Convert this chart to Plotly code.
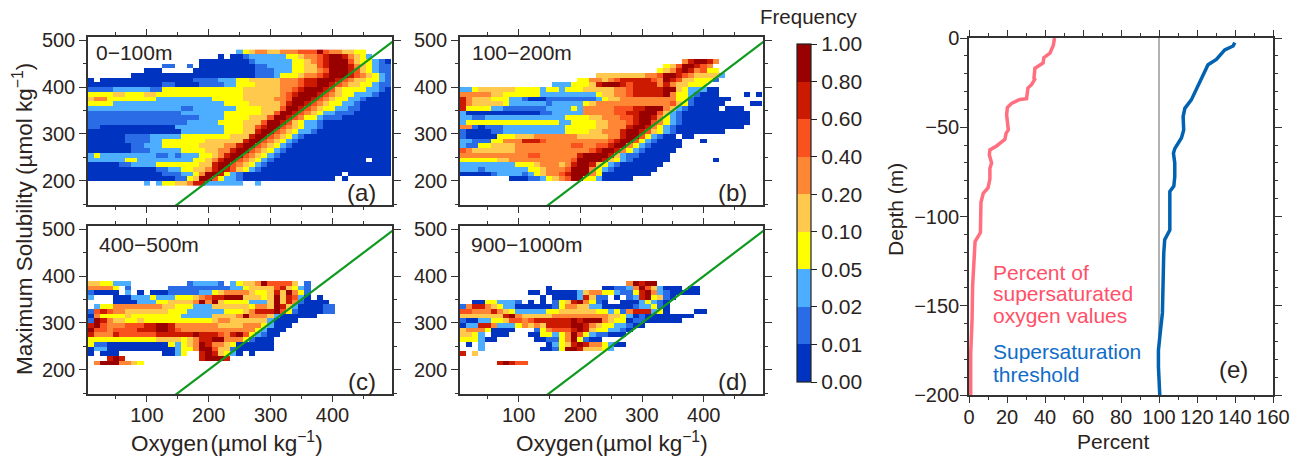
import plotly.graph_objects as go

# ---------- data ----------
FREQ_TICKS = ["0.00", "0.01", "0.02", "0.05", "0.10", "0.20", "0.40", "0.60", "0.80", "1.00"]
BAND_COLORS = ["#0033C0", "#2A6CE6", "#4DAEFF", "#FFFF00", "#FFC94D", "#FF8635", "#F9521F", "#CC1A00", "#990000"]
OXYGEN_BINS = list(range(10, 500, 10))
SOLUBILITY_BINS_TOP_DOWN = list(range(475, 185, -10))

# each row: one solubility bin (top row first); digit = frequency band, "." = no data
PANEL_A = [
 ".......... .......... ....234554 4555666865 54433....",
 ".......... .......... .0.0012222 2233455678 875432...",
 ".......... ........00 0000001222 2223345678 886433210",
 ".......... ..11..1.00 0000000112 2223344678 887543211",
 ".........0 00.....000 0000000111 2223344568 887643211",
 ".......000 0000000000 0000000111 2333455678 887654321",
 "0.00000000 0000000111 1222334444 4555677888 765443321",
 "0000000000 0011000011 1122333444 4555677887 654433211",
 "1111222222 1133333333 3333344444 4556788876 433332210",
 "3333443334 4333333333 3333344444 4567888765 433222100",
 "4553333333 3222222222 3333344444 5568887654 332210000",
 "3333222222 2222222222 2233334444 4578876543 322100000",
 "2222222222 2222211222 2222333344 4688765433 221100000",
 "1111111111 1111122222 2233333344 6887654322 111000000",
 "1111111111 1111111122 2233334446 8876533211 100000000",
 "1111111111 1111112222 2333344468 8764322100 000000000",
 "1100000000 0000222222 2233344678 8654322100 000000000",
 "0000000000 0000022222 2233344788 6543221000 000000000",
 "0000001111 2222233333 3334447886 5432100000 000000000",
 "0000001111 2233333334 4444478865 4321000000 000000000",
 "0000000112 2233333344 4455788654 3210000000 000000000",
 "0000000111 2222233334 4557886543 2100000000 000000000",
 "2322222222 2112122233 4578865432 1000000000 000000000",
 "2222223322 2222222334 5788654321 0000000000 00000.000",
 "0000011222 2333333344 7886543210 0000000000 000000000",
 "0000000000 0112233445 7876432100 0000000000 000000000",
 "0000000000 0011122358 8732100000 0000000000 0.0000000",
 "0000000000 0000113488 6322100000 0000000000 .0.......",
 ".........2 .233445772 22222..2.. .......... .........",
]

PANEL_B = [
 ".......... .......... .......... .......... .........",
 ".......... .......... .......... .......... .........",
 ".......... .......... .......... ......5788 75.......",
 ".......... .......... .......... ...3468876 5........",
 ".......... .......... .......... ..34578756 33.......",
 ".......... .......... ..44444444 5568876544 442......",
 ".......... .........3 3554567777 7658764433 31.......",
 ".......... .....22233 3478887677 7757544333 .........",
 "2234444443 3332332333 4444455677 7778843222 00.......",
 "5555544333 3332222222 2234455677 7778533210 00....0.0",
 "7544433322 1000111111 1123445555 5555533100 0000.....",
 "7544444322 2222122222 3455555555 5555643100 000....00",
 "7333322111 1111222232 5555566677 8885421000 00.000...",
 "2000000000 0001122222 5555566778 8864210000 0000000..",
 "2211222222 2222222333 3445556678 8753210000 0000000..",
 "2333333333 3333332233 3344555678 8653210000 0000000..",
 "5510111222 2222222333 3344555788 7532100000 000000...",
 "1000011222 2222222333 3445557887 6432100000 000......",
 "1000003334 4455555554 4444557886 32100.00.. .........",
 "2211133555 7776555555 5555678863 210000...0 .........",
 "2113344445 5555555566 5566788532 100000.... .........",
 "6544444445 5555555555 5678875321 00000..... .........",
 "5555555555 5665555557 8888742110 0000...... .........",
 "3333334455 5555555568 8887432100 0000...... .0.......",
 "2222222223 3345554578 8743210000 000....... .........",
 "2221222222 2334555688 8532100000 00........ .........",
 "0000012222 1234556788 8530000000 0......... .........",
 "........00 0112345688 33200000.. .......... .........",
 ".......... .......... .......... .......... .........",
]

PANEL_C = [
 ".......... .......... .......... .......... .........",
 ".......... .......... .......... .......... .........",
 ".......... .......... .......... .......... .........",
 ".......... .......... .......... .......... .........",
 ".......... .......... .......... .......... .........",
 ".......... .......... .......... .......... .........",
 ".......... .......... .......... .......... .........",
 ".......... .......... .......... .......... .........",
 ".......... .......... .......... .......... .........",
 "4433222... ......1222 21.2344586 6664.1.... .........",
 "55553.1... ...1111111 1112234444 674321.... .........",
 "10000.2.0. 0001111122 3455554334 748531.... .........",
 "2...000222 3222333456 7788844434 847620.0.. .........",
 "....000022 2334444585 8433332224 847510000. .........",
 ".233555555 5544333222 4444443554 8742000011 .........",
 "1676554444 4443332222 2233345777 8631000011 .........",
 "0533334333 3333322222 4444585554 2000000... .........",
 "1875443343 3333333333 4554444442 0000...... .........",
 "7865556667 7887555555 5444455532 000....... .........",
 "8665666677 7887655555 5555555320 00........ .........",
 "7555766666 6777777877 7657863210 0......... .........",
 "3333333333 3444434577 8855531000 .......... .........",
 "3110000000 0003234587 5543000000 .......... .........",
 "0220000000 0000233588 6441000000 .......... .........",
 "0.000..... ..0023..78 74320.0... .......... .........",
 "...787.... ........78 887....... .......... .........",
 ".58885543. .......... .......... .......... .........",
 ".......... .......... .......... .......... .........",
 ".......... .......... .......... .......... .........",
]

PANEL_D = [
 ".......... .......... .......... .......... .........",
 ".......... .......... .......... .......... .........",
 ".......... .......... .......... .......... .........",
 ".......... .......... .......... .......... .........",
 ".......... .......... .......... .......... .........",
 ".......... .......... .......... .......... .........",
 ".......... .......... .......... .......... .........",
 ".......... .......... .......... .......... .........",
 ".......... .......... .......... .......... .........",
 ".......... .......... .......587 88........ .........",
 ".......... ....0..... ...0011258 642000.00. .........",
 ".......... .00.000002 4553321137 852100000. .........",
 ".......... ...0.00002 7411.0.127 83410..... .........",
 "..00332221 .0.0.13478 5310..0002 3210...... .........",
 "1577543220 0000013554 4220000012 2310...... .........",
 "6655575432 2222334444 4433231577 7230....00 .........",
 "4444444785 4444455555 5555443201 00000000.. .........",
 "1002233466 5677777787 8885433011 000000.... .........",
 "0227752223 5454777788 7543322100 .......... .........",
 "455530000. ..13566678 74332210.. .......... .........",
 "4432.000.. .003323586 3211000... .......... .........",
 "333200.... ..00113583 100....... .......... .........",
 ".0.2...... ....023478 7553200... .......... .........",
 "...2...... ...0013887 44432..... .......... .........",
 "7.4....... .......... .......... .......... .........",
 ".......... .......... .......... .......... .........",
 "......7876 6......... .......... .......... .........",
 ".......... .......... .......... .......... .........",
 ".......... .......... .......... .......... .........",
]

PANEL_NAMES = ["0\u2212100m", "100\u2212200m", "400\u2212500m", "900\u22121000m"]
PANEL_TAGS = ["(a)", "(b)", "(c)", "(d)"]

SAT_PERCENT = [45, 44.4, 42.6, 39.4, 39, 34.7, 34.2, 34.6, 33, 31, 30.3, 26.8, 22.4, 20.2, 19.8, 20.7, 20.7, 19.5, 18.9,
               14.5, 11, 10.7, 11.9, 11, 11, 10, 7.5, 6.3, 6, 3.2, 2.5, 1.9, 1.6, 0.9, 0.9]
SAT_DEPTH = [0, -4, -8.5, -11, -14, -17, -22.6, -23.2, -26, -28, -34, -34.4, -36.6, -39, -43, -49, -51.5, -53.4, -56.8,
             -60.5, -62.7, -65.5, -70, -73, -79, -84, -87, -92, -109, -114, -124, -139, -158, -177, -200]
THRESH_PERCENT = [139.9, 139, 134.6, 130.2, 125.8, 123.2, 119.7, 117, 113.6, 112.7, 113, 111.8, 108.3, 107.6, 108.3,
                  108.3, 107.8, 105.7, 105.7, 103, 102.5, 102.2, 101.8, 100.8, 99.7, 99.7, 100.4]
THRESH_DEPTH = [-2.6, -4.5, -6.7, -12, -15, -20.7, -29, -34.7, -39.4, -44, -51.5, -56, -62, -64.6, -70, -77.7, -83, -86,
                -107.6, -113, -120.6, -139, -154, -163.6, -175, -184, -200]

# ---------- layout constants ----------
W, H = 1303, 456
FONT = "Liberation Sans, Arial, sans-serif"
INK = "#2a2320"
FS = 21
TICK_FS = 20
AXIS = "#333333"
PANEL_BOXES = [(88, 392, 37, 205), (460, 763, 37, 205), (88, 392, 226, 394), (460, 763, 226, 394)]
NAME_POS = [(94, 53), (470, 53), (97, 245), (469, 245)]
OXYGEN_TITLE_X = {2: 226.5, 3: 611.5}
E_BOX = (969, 1273, 38, 395)
BAR_X0, BAR_X1, BAR_Y0, BAR_Y1 = 797, 811, 44, 382


def px(v):
    return v / W


def py(v):
    return 1 - v / H


def rows_to_z(rows):
    z = []
    for row in rows:
        chars = row.replace(" ", "").ljust(49, ".")[:49]
        z.append([None if c == "." else int(c) + 0.5 for c in chars])
    return z


def label(text, x, y, size=FS, color=INK, xanchor="left", angle=0):
    return dict(text=text, xref="paper", yref="paper", x=px(x), y=py(y), xanchor=xanchor, yanchor="middle",
                showarrow=False, textangle=angle, font=dict(family=FONT, size=size, color=color))


fig = go.Figure()
layout = {}
annotations = []
shapes = []

for i, rows in enumerate([PANEL_A, PANEL_B, PANEL_C, PANEL_D]):
    n = i + 1
    suffix = "" if n == 1 else str(n)
    fig.add_trace(go.Heatmap(x=OXYGEN_BINS, y=SOLUBILITY_BINS_TOP_DOWN, z=rows_to_z(rows), coloraxis="coloraxis",
                             xaxis="x" + suffix, yaxis="y" + suffix, hoverongaps=False))
    fig.add_trace(go.Scatter(x=[100, 500], y=[100, 500], mode="lines", line=dict(color="#0F9A1F", width=2.2),
                             xaxis="x" + suffix, yaxis="y" + suffix, showlegend=False, cliponaxis=True))
    x0, x1, y0, y1 = PANEL_BOXES[i]
    layout["xaxis" + suffix] = dict(
        domain=[px(x0), px(x1)], range=[5, 496], anchor="y" + suffix, showgrid=False, zeroline=False,
        tickmode="array", tickvals=[100, 200, 300, 400], ticks="outside", ticklen=6, tickwidth=1.3, tickcolor=AXIS,
        mirror="allticks", showline=True, linecolor=AXIS, linewidth=1.5, showticklabels=i >= 2, ticklabelstandoff=-4,
        tickfont=dict(family=FONT, size=TICK_FS, color=INK),
        minor=dict(tickmode="array", tickvals=[50, 150, 250, 350, 450], ticks="outside", ticklen=3.5, tickwidth=1.1,
                   tickcolor=AXIS, showgrid=False),
    )
    layout["yaxis" + suffix] = dict(
        domain=[py(y1), py(y0)], range=[148, 507], anchor="x" + suffix, showgrid=False, zeroline=False,
        tickmode="array", tickvals=[200, 300, 400, 500], ticks="outside", ticklen=7, tickwidth=1.3, tickcolor=AXIS,
        mirror="allticks", showline=True, linecolor=AXIS, linewidth=1.5,
        tickfont=dict(family=FONT, size=TICK_FS, color=INK),
        minor=dict(tickmode="array", tickvals=[150, 250, 350, 450], ticks="outside", ticklen=3.5, tickwidth=1.1,
                   tickcolor=AXIS, showgrid=False),
    )
    annotations.append(label(PANEL_NAMES[i], NAME_POS[i][0], NAME_POS[i][1]))
    annotations.append(label(PANEL_TAGS[i], x1 - 14, y1 - 13, size=24, xanchor="right"))
    if i in OXYGEN_TITLE_X:
        annotations.append(label("Oxygen\u200a(\u00b5mol kg<sup>\u22121</sup>)", OXYGEN_TITLE_X[i], 442, size=22.5,
                                 xanchor="center"))

# panel (e)
fig.add_trace(go.Scatter(x=[100, 100], y=[-200, 0], mode="lines", line=dict(color="#999999", width=1.5),
                         xaxis="x5", yaxis="y5", showlegend=False))
fig.add_trace(go.Scatter(x=SAT_PERCENT, y=SAT_DEPTH, mode="lines", line=dict(color="#FF6F7F", width=3.5),
                         xaxis="x5", yaxis="y5", showlegend=False))
fig.add_trace(go.Scatter(x=THRESH_PERCENT, y=THRESH_DEPTH, mode="lines", line=dict(color="#0062B1", width=3.5),
                         xaxis="x5", yaxis="y5", showlegend=False))
ex0, ex1, ey0, ey1 = E_BOX
layout["xaxis5"] = dict(
    domain=[px(ex0), px(ex1)], range=[0, 160], anchor="y5", showgrid=False, zeroline=False, tick0=0, dtick=20,
    ticks="outside", ticklen=6, tickwidth=1.3, tickcolor=AXIS, mirror="allticks", showline=True, linecolor=AXIS,
    linewidth=1.5, ticklabelstandoff=-3, tickfont=dict(family=FONT, size=TICK_FS, color=INK),
    minor=dict(dtick=10, ticks="outside", ticklen=3, tickwidth=1.1, tickcolor=AXIS, showgrid=False),
)
layout["yaxis5"] = dict(
    domain=[py(ey1), py(ey0)], range=[-200, 0], anchor="x5", showgrid=False, zeroline=False, tick0=0, dtick=50,
    ticks="outside", ticklen=7, tickwidth=1.3, tickcolor=AXIS, mirror="allticks", showline=True, linecolor=AXIS,
    linewidth=1.5, ticklabelstandoff=-3, tickfont=dict(family=FONT, size=TICK_FS, color=INK),
    minor=dict(dtick=10, ticks="outside", ticklen=3, tickwidth=1.1, tickcolor=AXIS, showgrid=False),
)

for text, color, yy in [("Percent of", "#FF5068", 272), ("supersaturated", "#FF5068", 293), ("oxygen values", "#FF5068", 315),
                        ("Supersaturation", "#0F6CC8", 351), ("threshold", "#0F6CC8", 374)]:
    annotations.append(label(text, 991, yy, color=color))
annotations.append(label("(e)", 1250, 369, size=24, xanchor="right"))
annotations.append(label("Percent", 1113, 441, xanchor="center"))
annotations.append(label("Depth (m)", 895, 210, xanchor="center", angle=-90))
annotations.append(label("Maximum Solubility (\u00b5mol kg<sup>\u22121</sup>)", 23, 219, size=22.5, xanchor="center", angle=-90))
annotations.append(label("Frequency", 809, 17, size=20.5, xanchor="center"))

# band separators on the colour bar
n_bands = len(BAND_COLORS)
for k in range(1, n_bands):
    yy = BAR_Y1 - (BAR_Y1 - BAR_Y0) * k / n_bands
    shapes.append(dict(type="line", xref="paper", yref="paper", x0=px(BAR_X0), x1=px(BAR_X1), y0=py(yy), y1=py(yy),
                       line=dict(color="#222222", width=1.2)))

scale = []
for k, c in enumerate(BAND_COLORS):
    scale += [[k / n_bands, c], [(k + 1) / n_bands, c]]

fig.update_layout(
    width=W, height=H, margin=dict(l=0, r=0, t=0, b=0, autoexpand=False), paper_bgcolor="white", plot_bgcolor="white",
    showlegend=False, annotations=annotations, shapes=shapes,
    coloraxis=dict(
        cmin=0, cmax=n_bands, colorscale=scale,
        colorbar=dict(
            thickness=BAR_X1 - BAR_X0, thicknessmode="pixels", len=BAR_Y1 - BAR_Y0, lenmode="pixels",
            x=px(BAR_X0), xanchor="left", xpad=0, y=py(BAR_Y1), yanchor="bottom", ypad=0,
            tickmode="array", tickvals=list(range(n_bands + 1)), ticktext=FREQ_TICKS,
            ticks="outside", ticklen=6, tickwidth=1.2, tickcolor="#222222",
            outlinecolor="#222222", outlinewidth=1.2, tickfont=dict(family=FONT, size=FS, color=INK),
        ),
    ),
    **layout,
)

fig.write_html("out.html", config={"displayModeBar": False},
               post_script="document.body.style.margin='0';document.body.style.overflow='hidden';")
